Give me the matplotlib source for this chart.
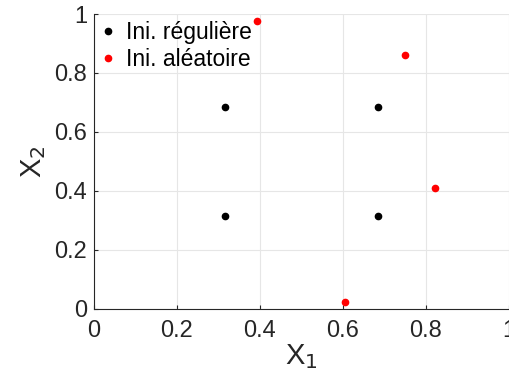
import numpy as np
import matplotlib
matplotlib.use('Agg')
import matplotlib.pyplot as plt

plt.rcParams['font.family'] = ['Liberation Sans', 'DejaVu Sans']

# regular initialisation (grid of 4 points)
reg_x1 = [0.316, 0.316, 0.684, 0.684]
reg_x2 = [0.316, 0.684, 0.316, 0.684]

# random initialisation
rand_x1 = [0.393, 0.749, 0.822, 0.605]
rand_x2 = [0.977, 0.861, 0.410, 0.022]

fig = plt.figure(figsize=(5.10, 3.79), dpi=100)
ax = fig.add_axes([0.184, 0.185, 0.814, 0.778])

ax.plot(reg_x1, reg_x2, 'o', color='black', markersize=4.5, label='Ini. régulière', clip_on=False)
ax.plot(rand_x1, rand_x2, 'o', color='red', markersize=4.5, label='Ini. aléatoire', clip_on=False)

ax.set_xlim(0, 1)
ax.set_ylim(0, 1)
ticks = [0, 0.2, 0.4, 0.6, 0.8, 1]
labels = ['0', '0.2', '0.4', '0.6', '0.8', '1']
ax.set_xticks(ticks, labels)
ax.set_yticks(ticks, labels)
ax.grid(True, color='#e6e6e6', linewidth=0.8)
ax.set_axisbelow(True)
for s in ['top', 'right']:
    ax.spines[s].set_visible(False)
for s in ['left', 'bottom']:
    ax.spines[s].set_color('#262626')
    ax.spines[s].set_linewidth(0.8)
ax.tick_params(direction='in', length=3, labelsize=17, colors='#262626')
ax.tick_params(axis='x', pad=8)
ax.tick_params(axis='y', pad=5)

ax.set_xlabel('X$_1$', fontsize=21, color='#262626', labelpad=0)
ax.set_ylabel('X$_2$', fontsize=21, color='#262626', labelpad=4)

ax.legend(loc='upper left', frameon=False, fontsize=16.5, handlelength=0.6,
          handletextpad=0.5, borderaxespad=0.1, labelspacing=0.2, borderpad=0.2)

fig.savefig('out.png', dpi=100)
